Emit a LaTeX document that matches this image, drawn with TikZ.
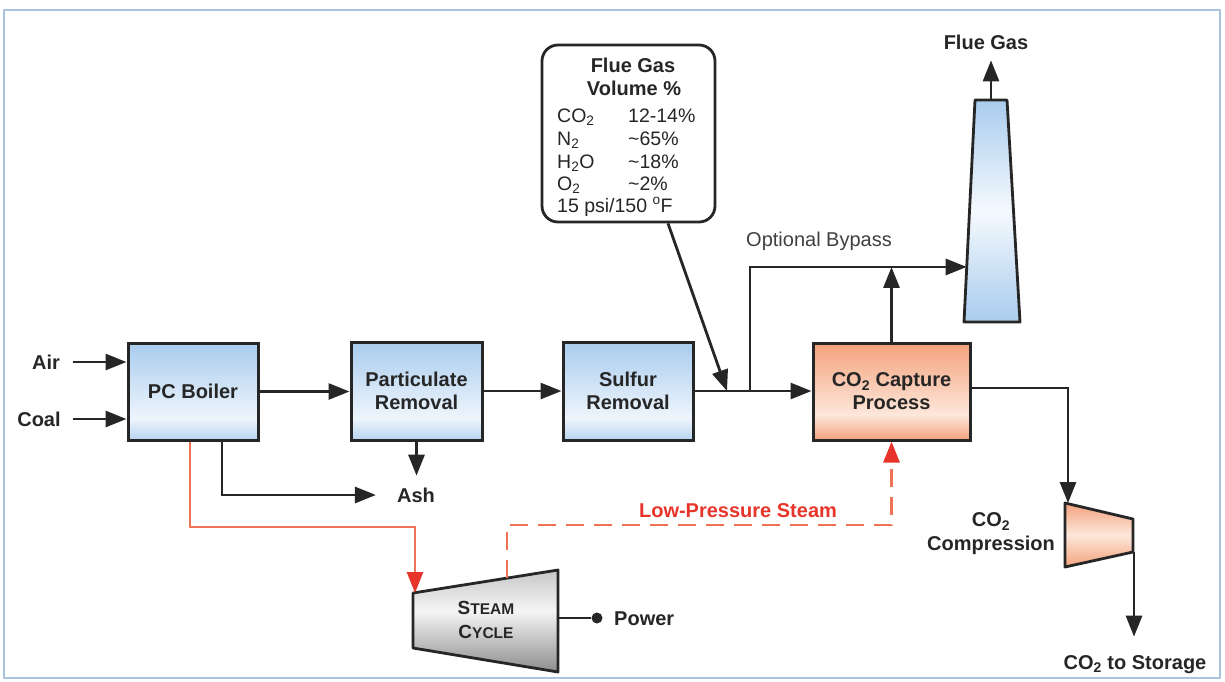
\documentclass[tikz,border=0pt]{standalone}
\usepackage{fontspec}
\setmainfont{Liberation Sans}
\usetikzlibrary{arrows.meta,calc}

\definecolor{ink}{HTML}{262626}
\definecolor{bxblue}{HTML}{A9CCEE}
\definecolor{bxlight}{HTML}{EEF5FC}
\definecolor{orng}{HTML}{F3A27C}
\definecolor{orlight}{HTML}{FDE7DB}
\definecolor{steamred}{HTML}{E8352B}
\definecolor{steamline}{HTML}{EF7257}
\definecolor{frameblue}{HTML}{ABC3DF}

% vertical shadings (bottom at 25bp, top at 75bp)
\pgfdeclareverticalshading{bluebox}{100bp}{color(0bp)=(bxblue!80!bxlight); color(25bp)=(bxblue!80!bxlight); color(36bp)=(bxlight); color(75bp)=(bxblue); color(100bp)=(bxblue)}
\pgfdeclareverticalshading{orangebox}{100bp}{color(0bp)=(orng); color(25bp)=(orng); color(38bp)=(orlight); color(75bp)=(orng); color(100bp)=(orng)}
\pgfdeclareverticalshading{stackshade}{100bp}{color(0bp)=(bxblue); color(25bp)=(bxblue); color(50bp)=(bxlight!60!white); color(75bp)=(bxblue); color(100bp)=(bxblue)}
\pgfdeclareverticalshading{greyshade}{100bp}{color(0bp)=(black!45); color(25bp)=(black!45); color(55bp)=(black!4); color(75bp)=(black!22); color(100bp)=(black!22)}
\pgfdeclareverticalshading{compshade}{100bp}{color(0bp)=(orng); color(25bp)=(orng); color(50bp)=(orlight); color(75bp)=(orng); color(100bp)=(orng)}

\begin{document}
\begin{tikzpicture}[x=1pt,y=-1pt,
  txt/.style={font=\fontsize{20}{23}\selectfont\bfseries, inner sep=2pt, align=center, text=ink},
  one/.style={text height=14.3pt, text depth=0pt},
  unit/.style={txt, draw=ink, line width=3pt, shade, shading=bluebox,
               minimum width=130pt, minimum height=97pt},
  hotunit/.style={unit, shading=orangebox},
  callout/.style={draw=ink, line width=2.8pt, rounded corners=16pt, fill=white,
                  minimum width=173pt, minimum height=177pt},
  row/.style={font=\fontsize{19.5}{22}\selectfont, inner sep=0pt, anchor=west, one, text=ink},
  arr/.style={draw=ink, line width=2.8pt, -{Triangle[length=21pt,width=16pt]}},
  plain/.style={draw=ink, line width=2.8pt},
  redarr/.style={draw=steamline, line width=2.8pt, -{Triangle[length=21pt,width=16pt,color=steamred]}},
  lpdash/.style={redarr, dash pattern=on 18pt off 10pt},
  equip/.style={draw=ink, line width=2.8pt, line join=round},
  smallcap/.style={font=\fontsize{19}{24}\selectfont\bfseries, align=center, inner sep=2pt, text=ink}
]
\useasboundingbox (0,0) rectangle (1225,681);
\fill[white] (0,0) rectangle (1225,681);
\draw[frameblue, line width=2.5pt] (4,10) rectangle (1220,678);

% ---------- process units ----------
\node[unit] (boiler) at (193,391.5) {PC Boiler};
\node[unit, minimum width=131pt, minimum height=98pt] (part) at (416.5,391) {Particulate\\Removal};
\node[unit, minimum height=98pt] (sulf) at (628,391) {Sulfur\\Removal};
\node[hotunit, minimum width=157pt] (capt) at (891.5,391.5)
  {CO\textsubscript{2} Capture\\Process};

% ---------- flue gas composition call-out ----------
\node[callout] (fg) at (628.5,133.5) {};
\node[txt, one] (fg-h1) at (633,65) {Flue Gas};
\node[txt, one] (fg-h2) at (634,88) {Volume \%};
\node[row] (fg-co2) at (557,115) {CO\textsubscript{2}};
\node[row] (fg-co2v) at (628,115) {12-14\%};
\node[row] (fg-n2) at (557,138) {N\textsubscript{2}};
\node[row] (fg-n2v) at (628,138) {\textasciitilde65\%};
\node[row] (fg-h2o) at (557,161) {H\textsubscript{2}O};
\node[row] (fg-h2ov) at (628,161) {\textasciitilde18\%};
\node[row] (fg-o2) at (557,183) {O\textsubscript{2}};
\node[row] (fg-o2v) at (628,183) {\textasciitilde2\%};
\node[row] (fg-pt) at (557,205) {15 psi/150 \textsuperscript{o}F};

% ---------- stack ----------
\coordinate (stk-tl) at (975,100);
\coordinate (stk-tr) at (1007,100);
\coordinate (stk-br) at (1020,322);
\coordinate (stk-bl) at (964,322);
\coordinate (stk-top) at (991,100);
\coordinate (stk-byp) at ($(stk-tl)!0.752!(stk-bl)$);
\path[equip, shade, shading=stackshade] (stk-tl) -- (stk-tr) -- (stk-br) -- (stk-bl) -- cycle;
\node[txt, one] (fgout) at (986,42) {Flue Gas};

% ---------- CO2 compressor ----------
\coordinate (cmp-tl) at (1065,503);
\coordinate (cmp-tr) at (1133,519);
\coordinate (cmp-br) at (1133,552);
\coordinate (cmp-bl) at (1065,567);
\coordinate (cmp-in) at (1068,503);
\coordinate (cmp-out) at (1134,552);
\path[equip, shade, shading=compshade] (cmp-tl) -- (cmp-tr) -- (cmp-br) -- (cmp-bl) -- cycle;
\node[txt] (cmplbl) at (991,534) {CO\textsubscript{2}\\[1pt]Compression};
\node[txt, one] (storage) at (1135,662) {CO\textsubscript{2} to Storage};

% ---------- steam cycle turbine ----------
\coordinate (st-tl) at (413,593);
\coordinate (st-tr) at (558,570);
\coordinate (st-br) at (558,672);
\coordinate (st-bl) at (413,648);
\coordinate (st-in) at (415,593);
\coordinate (st-out) at (507,578);
\coordinate (st-pw) at (558,618);
\path[equip, shade, shading=greyshade] (st-tl) -- (st-tr) -- (st-br) -- (st-bl) -- cycle;
\node[smallcap] (stlbl) at (486,620)
  {S{\fontsize{15.5}{24}\selectfont TEAM}\\C{\fontsize{15.5}{24}\selectfont YCLE}};
\node[circle, fill=ink, inner sep=0pt, minimum size=11pt] (pdot) at (597,618) {};
\node[txt, one, anchor=west] (power) at (612,618) {Power};

% ---------- stream labels ----------
\node[txt, one] (air) at (46,362) {Air};
\node[txt, one] (coal) at (39,419) {Coal};
\node[txt, one] (ash) at (416,495) {Ash};
\node[txt, one, font=\fontsize{20}{23}\selectfont, text=black!75, anchor=west] (bypass) at (744,239) {Optional Bypass};
\node[txt, one, text=steamred] (lps) at (738,510) {Low-Pressure Steam};

% ---------- flue gas train ----------
\coordinate (jn) at (750,391);
\coordinate (ptr) at (727,391);
\draw[arr, shorten <=11pt] (air.east) -- (air.east -| boiler.west);
\draw[arr, shorten <=10pt] (coal.east) -- (coal.east -| boiler.west);
\draw[arr] (boiler.east) -- (boiler.east -| part.west);
\draw[arr] (part.east) -- (sulf.west);
\draw[arr] (sulf.east) -- (sulf.east -| capt.west);
\draw[arr] (jn) |- (stk-byp);
\draw[arr] (capt.north) -- (capt.north |- stk-byp);
\draw[arr] ([xshift=39.5pt]fg.south) -- (ptr);
\draw[arr, shorten >=9pt] (stk-top) -- (stk-top |- fgout.south);

% ---------- ash removal ----------
\draw[arr, shorten >=19pt] ([xshift=29pt]boiler.south) |- (ash.west);
\draw[arr, shorten >=10pt] (part.south) -- (part.south |- ash.north);

% ---------- CO2 product ----------
\draw[arr] (capt.east |- 0,388) -| (cmp-in);
\draw[arr, shorten >=16pt] (cmp-out) -- (cmp-out |- storage.north);

% ---------- steam side ----------
\coordinate (rc) at (415,527);
\coordinate (lpc) at (507,525);
\draw[redarr] ([xshift=-3pt]boiler.south) |- (rc) -- (st-in);
\draw[lpdash] (st-out) -- (lpc) -| (capt.south);
\draw[plain] (st-pw) -- (pdot);
\end{tikzpicture}
\end{document}
